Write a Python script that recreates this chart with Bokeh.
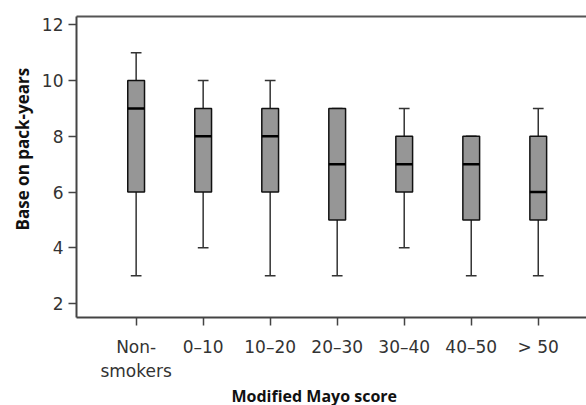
from bokeh.plotting import figure
from bokeh.models import Range1d, FixedTicker, ColumnDataSource, LinearAxis, Title
from bokeh.embed import file_html
from bokeh.resources import INLINE

categories = ["Non-\nsmokers", "0\u201310", "10\u201320", "20\u201330", "30\u201340", "40\u201350", "> 50"]
lower = [3, 4, 3, 3, 4, 3, 3]
q1 = [6, 6, 6, 5, 6, 5, 5]
median = [9, 8, 8, 7, 7, 7, 6]
q3 = [10, 9, 9, 9, 8, 8, 8]
upper = [11, 10, 10, 9, 9, 8, 9]
y_ticks = [2, 4, 6, 8, 10, 12]

xs = list(range(1, len(categories) + 1))
bw = 0.25
cw = 0.16

src = ColumnDataSource(dict(
    x=xs, lower=lower, q1=q1, median=median, q3=q3, upper=upper,
    bl=[x - bw / 2 for x in xs], br=[x + bw / 2 for x in xs],
    cl=[x - cw / 2 for x in xs], cr=[x + cw / 2 for x in xs],
))

p = figure(width=586, height=405, output_backend="svg", toolbar_location=None,
           x_range=Range1d(0.11, 7.72), y_range=Range1d(1.5, 12.3),
           min_border_left=76, min_border_right=0, min_border_top=16, min_border_bottom=0)
p.outline_line_color = None
p.xgrid.visible = False
p.ygrid.visible = False

# whiskers
p.segment(x0="x", y0="q3", x1="x", y1="upper", source=src, line_color="#333333", line_width=1.5)
p.segment(x0="x", y0="lower", x1="x", y1="q1", source=src, line_color="#333333", line_width=1.5)
# caps
p.segment(x0="cl", y0="upper", x1="cr", y1="upper", source=src, line_color="#333333", line_width=1.5)
p.segment(x0="cl", y0="lower", x1="cr", y1="lower", source=src, line_color="#333333", line_width=1.5)
# boxes
p.vbar(x="x", top="q3", bottom="q1", width=bw, source=src,
       fill_color="#969696", line_color="#111111", line_width=1.5)
# medians
p.segment(x0="bl", y0="median", x1="br", y1="median", source=src, line_color="#000000", line_width=2.5)

xax = p.below[0]
yax = p.left[0]

for ax in (xax, yax):
    ax.axis_line_color = "#444444"
    ax.axis_line_width = 2
    ax.major_tick_line_color = "#444444"
    ax.major_tick_line_width = 1.5
    ax.major_tick_out = 8
    ax.major_tick_in = 0
    ax.minor_tick_line_color = None
    ax.major_label_text_font = "DejaVu Sans"
    ax.major_label_text_font_size = "17px"
    ax.major_label_text_color = "#333333"

xax.ticker = FixedTicker(ticks=xs)
xax.major_label_overrides = {x: c for x, c in zip(xs, categories)}
xax.major_label_standoff = 11

yax.ticker = FixedTicker(ticks=y_ticks)
yax.major_label_standoff = 5

# axis titles as side titles, offset to match the reference placement
p.add_layout(Title(text="Modified Mayo score", align="left", offset=155, standoff=-2,
                   text_font="Open Sans", text_font_size="16px", text_font_style="bold",
                   text_color="#111111"), "below")
p.add_layout(Title(text="Base on pack-years", align="left", offset=87, standoff=9,
                   text_font="Open Sans", text_font_size="17px", text_font_style="bold",
                   text_color="#111111"), "left")

# top border as a bare axis
top_axis = LinearAxis(ticker=FixedTicker(ticks=[]), axis_line_color="#555555", axis_line_width=2,
                      major_tick_line_color=None, minor_tick_line_color=None,
                      major_label_text_font_size="0px", major_tick_out=0, major_tick_in=0,
                      major_label_standoff=0)
p.add_layout(top_axis, "above")

open("out.html", "w").write(file_html(p, INLINE))
